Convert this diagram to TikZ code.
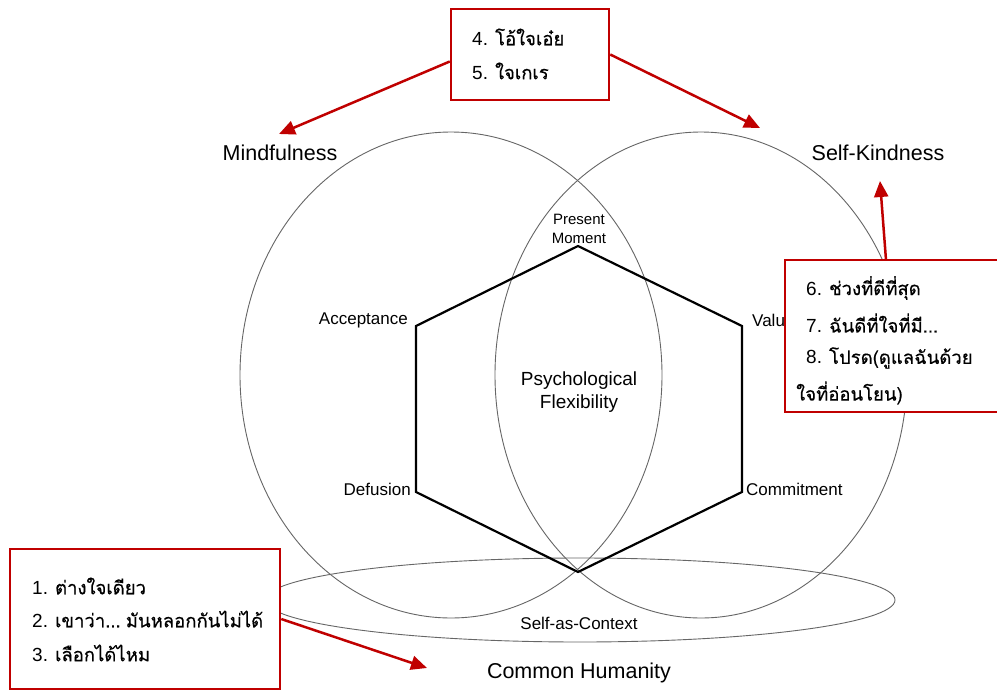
\documentclass[tikz,border=0pt]{standalone}
\usepackage{fontspec}
\setmainfont{Liberation Sans}
\newfontfamily\thaifont[Script=Thai,FakeBold=0.5]{Loma}
\usetikzlibrary{arrows.meta}
\definecolor{boxred}{RGB}{192,0,0}
\newcommand{\numbered}[2]{{\rmfamily\fontsize{19}{22}\selectfont #1. }#2}
\begin{document}
\begin{tikzpicture}[x=1pt,y=-1pt,
  ring/.style={draw=black!60, line width=0.9pt},
  hexline/.style={draw=black, line width=2.2pt, line join=miter},
  facet/.style={font=\fontsize{17}{20}\selectfont, inner sep=0pt},
  smallfacet/.style={font=\fontsize{15}{19}\selectfont, inner sep=0pt, align=center},
  core/.style={font=\fontsize{19}{23}\selectfont, inner sep=0pt, align=center},
  areatitle/.style={font=\fontsize{21.5}{24}\selectfont, inner sep=0pt},
  notebox/.style={draw=boxred, line width=2.5pt, fill=white, inner sep=0pt},
  noteline/.style={font=\thaifont\fontsize{18.5}{22}\selectfont, anchor=west, inner sep=0pt},
  pointer/.style={draw=boxred, line width=2.5pt, -{Triangle[length=16pt,width=14pt]}}]

\useasboundingbox (0,0) rectangle (997,691);
\fill[white] (0,0) rectangle (997,691);

% the three overlapping domains
\draw[ring] (451,375) ellipse [x radius=211, y radius=243];
\draw[ring] (701,375) ellipse [x radius=206, y radius=243];
\draw[ring] (580,600) ellipse [x radius=315, y radius=42];

% hexaflex
\coordinate (vtop) at (578,246);
\coordinate (vul) at (416,326);
\coordinate (vll) at (416,492);
\coordinate (vbot) at (578,572);
\coordinate (vlr) at (742,492);
\coordinate (vur) at (742,326);
\draw[hexline] (vtop) -- (vul) -- (vll) -- (vbot) -- (vlr) -- (vur) -- cycle;

% process labels
\node[smallfacet] (present) at (579,229) {Present\\Moment};
\node[facet, anchor=east] (accept) at (408,320) {Acceptance};
\node[facet, anchor=east] (defuse) at (411,489) {Defusion};
\node[facet, anchor=west] (values) at (752,320) {Values};
\node[facet, anchor=west] (commit) at (746,489) {Commitment};
\node[core] (flex) at (579,392) {Psychological\\Flexibility};
\node[facet] (context) at (579,623) {Self-as-Context};

% domain labels
\node[areatitle] (mind) at (280,153) {Mindfulness};
\node[areatitle] (kind) at (878,153) {Self-Kindness};
\node[areatitle] (human) at (579,673) {Common Humanity};

% note boxes
\node[notebox, minimum width=158pt, minimum height=91pt] (tb) at (530,54.5) {};
\node[notebox, minimum width=225pt, minimum height=152pt] (rb) at (897.5,336) {};
\node[notebox, minimum width=270pt, minimum height=140pt] (lb) at (145,619) {};

\node[noteline] (t4) at (472,37) {\numbered{4}{โอ้ใจเอ๋ย}};
\node[noteline] (t5) at (472,71) {\numbered{5}{ใจเกเร}};
\node[noteline] (t6) at (806,288) {\numbered{6}{ช่วงที่ดีที่สุด}};
\node[noteline] (t7) at (806,323) {\numbered{7}{ฉันดีที่ใจที่มี...}};
\node[noteline] (t8) at (806,358) {\numbered{8}{โปรด(ดูแลฉันด้วย}};
\node[noteline] (t8b) at (796,393) {ใจที่อ่อนโยน)};
\node[noteline] (t1) at (32,586) {\numbered{1}{ต่างใจเดียว}};
\node[noteline] (t2) at (32,619) {\numbered{2}{เขาว่า...{\rmfamily\ }มันหลอกกันไม่ได้}};
\node[noteline] (t3) at (32,653) {\numbered{3}{เลือกได้ไหม}};

% pointers from the notes to the domains
\coordinate (tipmind) at (279,134);
\coordinate (tipkind) at (760,128);
\coordinate (rbfoot) at (886,260);
\coordinate (tipkind2) at (880,181);
\coordinate (tiphuman) at (427,668);
\draw[pointer] ([yshift=-7pt]tb.west) -- (tipmind);
\draw[pointer] (tb.east) -- (tipkind);
\draw[pointer] (rbfoot) -- (tipkind2);
\draw[pointer] (lb.east) -- (tiphuman);
\end{tikzpicture}
\end{document}
